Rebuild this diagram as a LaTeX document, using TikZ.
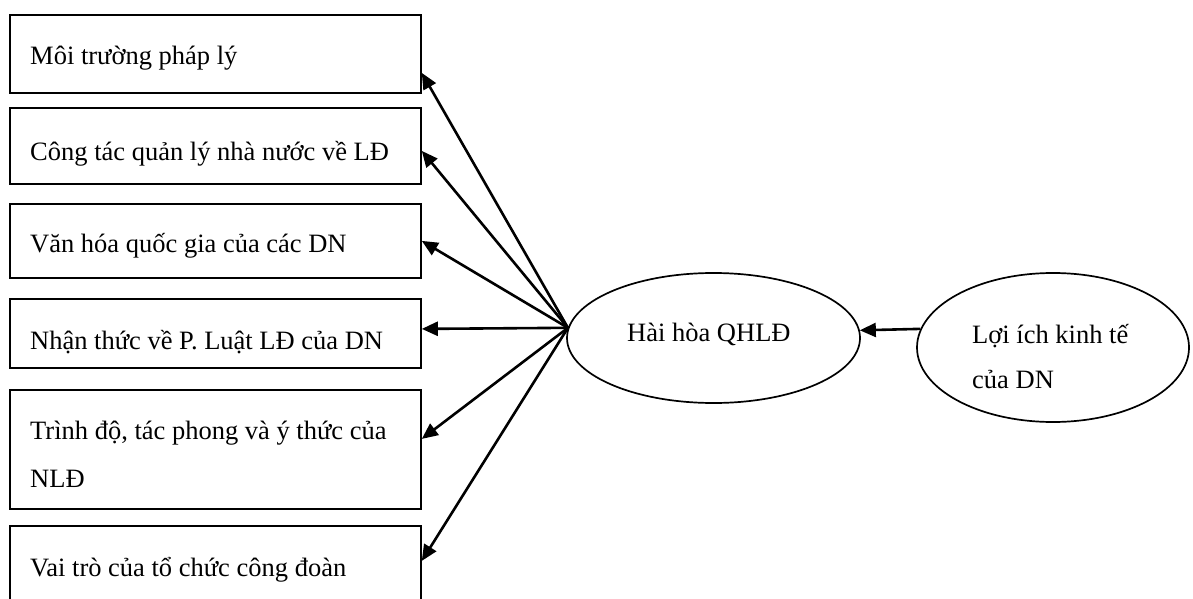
\documentclass[tikz,border=0pt]{standalone}
\usepackage{fontspec}
\setmainfont{Liberation Serif}
\usetikzlibrary{shapes.geometric,arrows.meta}

\begin{document}
\begin{tikzpicture}[x=1pt,y=-1pt,
  factor/.style={draw, line width=1.8pt, minimum width=411pt, inner sep=0pt, anchor=north west},
  oval/.style={draw, ellipse, line width=1.7pt, inner sep=0pt},
  txt/.style={inner sep=0pt, anchor=base west, align=left, font=\fontsize{26.5}{48}\selectfont},
  arr/.style={-{Triangle[length=16pt,width=14pt]}, line width=2.6pt}]

  \fill[white] (0,0) rectangle (1193,599);
  \useasboundingbox (0,0) rectangle (1193,599);

  % factor boxes on the left
  \node[factor, minimum height=78pt]  (b1) at (9,14)  {};
  \node[factor, minimum height=76pt]  (b2) at (9,107) {};
  \node[factor, minimum height=74pt]  (b3) at (9,203) {};
  \node[factor, minimum height=69pt]  (b4) at (9,298) {};
  \node[factor, minimum height=119pt] (b5) at (9,389) {};
  \node[factor, minimum height=80pt]  (b6) at (9,525) {};

  % labels (multi-line labels are placed by the baseline of their last line)
  \node[txt] (t1) at (30,65)  {Môi trường pháp lý};
  \node[txt] (t2) at (30,160) {Công tác quản lý nhà nước về LĐ};
  \node[txt] (t3) at (30,252) {Văn hóa quốc gia của các DN};
  \node[txt] (t4) at (30,349) {Nhận thức về P. Luật LĐ của DN};
  \node[txt] (t5) at (30,487) {Trình độ, tác phong và ý thức của\\NLĐ};
  \node[txt] (t6) at (30,576) {Vai trò của tổ chức công đoàn};

  % central and right ellipses
  \node[oval, minimum width=293pt, minimum height=130pt] (e1) at (713.5,338) {};
  \node[oval, minimum width=272pt, minimum height=149pt] (e2) at (1053,347.5) {};

  \node[txt] (h) at (627,341) {Hài hòa QHLĐ};
  \node[txt, font=\fontsize{26.5}{45}\selectfont] (l) at (972,388) {Lợi ích kinh tế\\của DN};

  % connectors
  \coordinate (hub) at (e1.176.9);
  \draw[arr] (hub) -- ([yshift=-19pt]b1.east);
  \draw[arr] (hub) -- ([yshift=-5pt]b2.east);
  \draw[arr] (hub) -- (b3.east);
  \draw[arr] (hub) -- ([yshift=4.5pt]b4.east);
  \draw[arr] (hub) -- ([yshift=10.5pt]b5.east);
  \draw[arr] (hub) -- ([yshift=5pt]b6.east);
  \draw[arr] (e2.172.5) -- (e1.3.1);
\end{tikzpicture}
\end{document}
